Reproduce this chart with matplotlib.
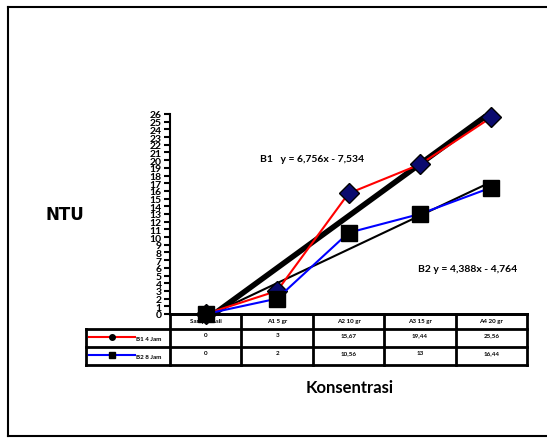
import numpy as np
import matplotlib.pyplot as plt
from matplotlib.lines import Line2D

plt.rcParams['font.family'] = ['Lato', 'DejaVu Sans']
plt.rcParams['font.weight'] = 'bold'

kategori = ["Sampel Asli", "A1 5 gr", "A2 10 gr", "A3 15 gr", "A4 20 gr"]
b1 = [0, 3, 15.67, 19.44, 25.56]
b2 = [0, 2, 10.56, 13, 16.44]
seri = ["B1 4 Jam", "B2 8 Jam"]
# persamaan trendline (slope, intercept)
tren_b1 = (6.756, -7.534)
tren_b2 = (4.388, -4.764)

W, H = 547, 439
fig = plt.figure(figsize=(W / 100, H / 100), dpi=100)

def fx(x):
    return x / W

def fy(y):
    return 1 - y / H

# bingkai luar
for xs, ys in [([8, 547], [8, 8]), ([8, 8], [8, 437]), ([8, 547], [437, 437])]:
    fig.add_artist(Line2D([fx(v) for v in xs], [fy(v) for v in ys], color='black', lw=1.5))

x0, x1, ytop, ybot = 170, 527, 115, 315
ax = fig.add_axes([fx(x0), fy(ybot), (x1 - x0) / W, (ybot - ytop) / H])

x = np.arange(len(kategori))
xt = np.linspace(0, len(kategori) - 1, 200)
ax.plot(xt, tren_b2[0] * (xt + 1) + tren_b2[1], color='black', lw=1.5, zorder=2)
ax.plot(xt, tren_b1[0] * (xt + 1) + tren_b1[1], color='black', lw=4, zorder=3)
ax.plot(x, b1, color='red', lw=1.5, marker='D', markersize=10, markerfacecolor='#0a0a6e',
        markeredgecolor='black', clip_on=False, zorder=4)
ax.plot(x, b2, color='blue', lw=1.5, marker='s', markersize=12, markerfacecolor='black',
        markeredgecolor='black', clip_on=False, zorder=5)

ax.set_xlim(-0.5, len(kategori) - 0.5)
ax.set_ylim(0, 26)
ax.set_yticks(range(0, 27))
ax.set_xticks([])
ax.tick_params(axis='y', direction='out', length=4, width=1.5, labelsize=7.5, pad=2)
for s in ['top', 'right']:
    ax.spines[s].set_visible(False)
ax.spines['left'].set_linewidth(1.5)
ax.spines['bottom'].set_linewidth(2)

# tabel data
cw = (x1 - x0) / len(kategori)
rows_y = [315, 330, 348, 366]
lab_left = 86
lw = 2
for yy in rows_y:
    left = x0 if yy == rows_y[0] else lab_left
    fig.add_artist(Line2D([fx(left), fx(x1)], [fy(yy), fy(yy)], color='black', lw=lw))
for i in range(len(kategori) + 1):
    xx = x0 + i * cw
    fig.add_artist(Line2D([fx(xx), fx(xx)], [fy(rows_y[0]), fy(rows_y[-1])], color='black', lw=lw))
fig.add_artist(Line2D([fx(lab_left), fx(lab_left)], [fy(rows_y[1]), fy(rows_y[-1])], color='black', lw=lw))

def fmt(v):
    return f"{v:g}".replace('.', ',')

for i, k in enumerate(kategori):
    fig.text(fx(x0 + (i + 0.5) * cw), fy(322), k, ha='center', va='center', fontsize=4.5)
for r, (vals, nama, warna, mk) in enumerate(zip([b1, b2], seri, ['red', 'blue'], ['o', 's'])):
    yc = (rows_y[r + 1] + rows_y[r + 2]) / 2
    for i, v in enumerate(vals):
        fig.text(fx(x0 + (i + 0.5) * cw), fy(yc - 3), fmt(v), ha='center', va='center', fontsize=4.5)
    fig.add_artist(Line2D([fx(89), fx(135)], [fy(yc - 1), fy(yc - 1)], color=warna, lw=1.5))
    fig.add_artist(Line2D([fx(112)], [fy(yc - 1)], marker=mk, markersize=4, color='black', lw=0))
    fig.text(fx(136), fy(yc + 1), nama, ha='left', va='center', fontsize=4.5)

fig.text(fx(260), fy(160), "B1   y = 6,756x - 7,534", ha='left', va='center', fontsize=7.5)
fig.text(fx(418), fy(270), "B2 y = 4,388x - 4,764", ha='left', va='center', fontsize=7.5)
fig.text(fx(65), fy(215), "NTU", ha='center', va='center', fontsize=12, family=['DejaVu Sans'])
fig.text(fx(350), fy(388), "Konsentrasi", ha='center', va='center', fontsize=12)

fig.savefig('out.png', dpi=100, facecolor='white')
